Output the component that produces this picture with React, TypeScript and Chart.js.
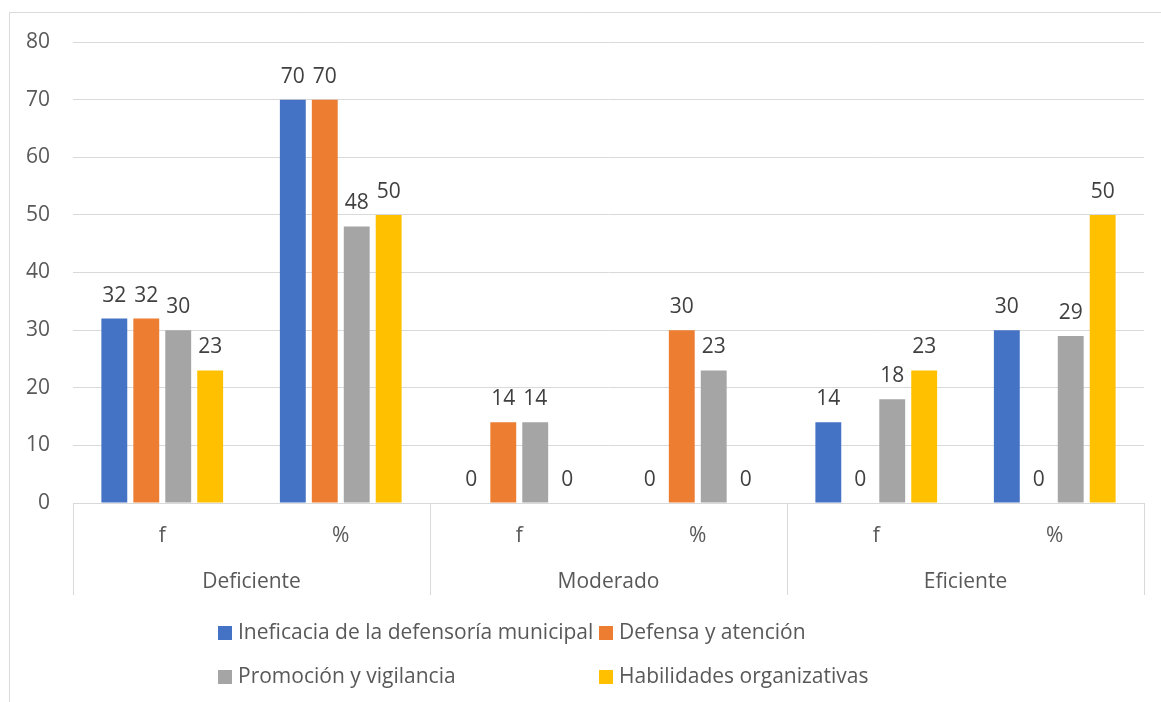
import React, { useEffect, useRef } from "react";
import { Chart, registerables } from "chart.js";

Chart.register(...registerables);

const categories = ["f", "%", "f", "%", "f", "%"];
const groups = ["Deficiente", "Moderado", "Eficiente"];
const seriesNames = [
  "Ineficacia de la defensoría municipal",
  "Defensa y atención",
  "Promoción y vigilancia",
  "Habilidades organizativas",
];
const ineficacia = [32, 70, 0, 0, 14, 30];
const defensa = [32, 70, 14, 30, 0, 0];
const promocion = [30, 48, 14, 23, 18, 29];
const habilidades = [23, 50, 0, 0, 23, 50];
const colors = ["#4472C4", "#ED7D31", "#A5A5A5", "#FFC000"];
const yTicks = [0, 10, 20, 30, 40, 50, 60, 70, 80];

const FONT = "'Open Sans', sans-serif";
const FS = 21;
const TEXT = "#595959";
const LINE = "#D9D9D9";

const extrasPlugin = {
  id: "extras",
  afterDatasetsDraw(chart: any) {
    const ctx = chart.ctx;
    ctx.save();
    ctx.font = `${FS}px ${FONT}`;
    ctx.fillStyle = "#404040";
    ctx.textAlign = "center";
    ctx.textBaseline = "alphabetic";
    chart.data.datasets.forEach((ds: any, i: number) => {
      const meta = chart.getDatasetMeta(i);
      meta.data.forEach((el: any, j: number) => {
        ctx.fillText(String(ds.data[j]), el.x, el.y - 17);
      });
    });
    ctx.restore();
  },
  afterDraw(chart: any) {
    const ctx = chart.ctx;
    const xs = chart.scales.x;
    const area = chart.chartArea;
    ctx.save();
    // outer border
    ctx.strokeStyle = LINE;
    ctx.lineWidth = 1;
    ctx.beginPath();
    ctx.moveTo(9.5, 702);
    ctx.lineTo(9.5, 12.5);
    ctx.lineTo(1161, 12.5);
    ctx.stroke();
    // group separators
    const bounds: number[] = [area.left];
    for (let g = 1; g < groups.length; g++) {
      bounds.push((xs.getPixelForValue(g * 2 - 1) + xs.getPixelForValue(g * 2)) / 2);
    }
    bounds.push(area.right);
    ctx.beginPath();
    bounds.forEach((b) => {
      const x = Math.round(b) + 0.5;
      ctx.moveTo(x, area.bottom);
      ctx.lineTo(x, area.bottom + 92);
    });
    ctx.stroke();
    // group labels
    ctx.font = `${FS}px ${FONT}`;
    ctx.fillStyle = TEXT;
    ctx.textAlign = "center";
    ctx.textBaseline = "alphabetic";
    groups.forEach((g, i) => {
      ctx.fillText(g, (bounds[i] + bounds[i + 1]) / 2, area.bottom + 85);
    });
    // legend
    const legendPos = [
      [218, 633],
      [599, 633],
      [218, 677],
      [599, 677],
    ];
    ctx.textAlign = "left";
    ctx.textBaseline = "middle";
    seriesNames.forEach((name, i) => {
      const [lx, ly] = legendPos[i];
      ctx.fillStyle = colors[i];
      ctx.fillRect(lx, ly - 7, 14, 14);
      ctx.fillStyle = TEXT;
      ctx.fillText(name, lx + 20, ly);
    });
    ctx.restore();
  },
};

export default function App() {
  const ref = useRef<HTMLCanvasElement>(null);
  useEffect(() => {
    if (!ref.current) return;
    const chart = new Chart(ref.current, {
      type: "bar",
      data: {
        labels: categories,
        datasets: [ineficacia, defensa, promocion, habilidades].map((d, i) => ({
          label: seriesNames[i],
          data: d,
          backgroundColor: colors[i],
          categoryPercentage: 0.716,
          barPercentage: 0.81,
        })),
      },
      options: {
        animation: false,
        responsive: false,
        devicePixelRatio: 1,
        layout: { padding: { left: 10, right: 17, top: 42, bottom: 99 } },
        plugins: { legend: { display: false }, tooltip: { enabled: false } },
        scales: {
          x: {
            grid: { display: false },
            border: { display: true, color: LINE, width: 1 },
            ticks: {
              color: TEXT,
              font: { family: FONT, size: FS },
              padding: 12,
              maxRotation: 0,
            },
            afterFit: (s: any) => {
              s.height = 100;
            },
          },
          y: {
            min: 0,
            max: 80,
            afterBuildTicks: (s: any) => {
              s.ticks = yTicks.map((v) => ({ value: v }));
            },
            grid: { color: LINE, lineWidth: 1, drawTicks: false },
            border: { display: false },
            ticks: {
              color: TEXT,
              font: { family: FONT, size: FS },
              padding: 23,
            },
            afterFit: (s: any) => {
              s.width = 63;
            },
          },
        },
      },
      plugins: [extrasPlugin],
    });
    return () => chart.destroy();
  }, []);
  return (
    <div style={{ position: "fixed", left: 0, top: 0, width: 1161, height: 702, background: "#fff" }}>
      <canvas ref={ref} width={1161} height={702} />
    </div>
  );
}
